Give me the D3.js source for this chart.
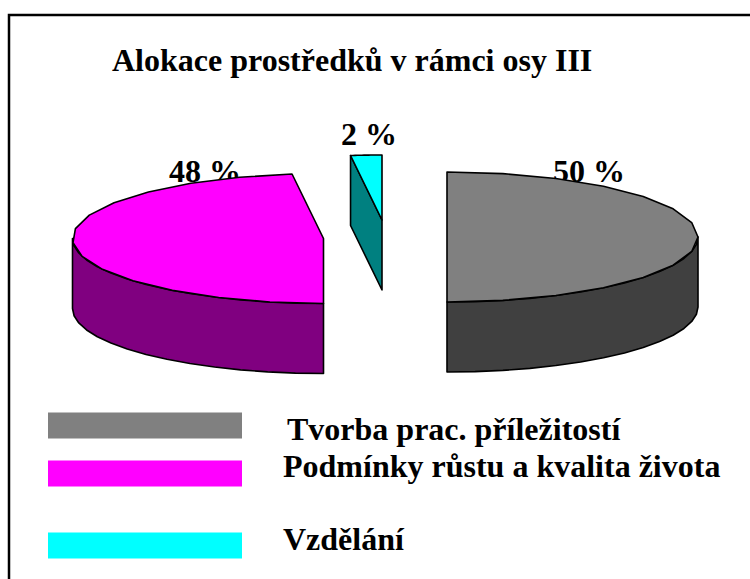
<!DOCTYPE html>
<html>
<head>
<meta charset="utf-8">
<script src="https://cdn.jsdelivr.net/npm/d3@7"></script>
<style>
html, body { margin: 0; padding: 0; background: #fff; }
svg { display: block; }
text { font-family: "Liberation Serif", serif; font-weight: bold; fill: #000; }
</style>
</head>
<body>
<svg id="vis" width="750" height="579"></svg>
<script>
const titleText = "Alokace prostředků v rámci osy III";
const categories = ["Tvorba prac. příležitostí", "Podmínky růstu a kvalita života", "Vzdělání"];
const shares = [50, 48, 2];
const pctLabels = ["50 %", "48 %", "2 %"];
const topColors = ["#808080", "#ff00ff", "#00ffff"];
const sideColors = ["#404040", "#800080", "#008080"];

let svg = d3.select("#vis");

const rx = 251, ry = 65, depth = 70;
// each slice is pulled out of the pie, so each has its own centre
const centres = [[447, 237], [323.5, 238.5], [382, 220]];
const labelPos = [[553, 182], [169, 182], [341, 145]];
const legendY = [412.5, 460.5, 532.5];
const legendBase = [440, 477, 550];
const legendX = [287, 283, 283];

// frame: top and left only, the picture is cut at right and bottom
svg.append("path")
    .attr("d", d3.line()([[9, 579], [9, 15], [750, 15]]))
    .attr("fill", "none")
    .attr("stroke", "#000")
    .attr("stroke-width", 2.5);

svg.append("text")
    .attr("x", 112).attr("y", 71)
    .attr("font-size", 32)
    .text(titleText);

// labels go first, the slices cover their lower edge
svg.selectAll("text.pct")
    .data(pctLabels)
    .enter()
    .append("text")
    .attr("class", "pct")
    .attr("x", (d, i) => labelPos[i][0])
    .attr("y", (d, i) => labelPos[i][1])
    .attr("font-size", 32)
    .text(d => d);

let pie = d3.pie().sort(null).startAngle(0).endAngle(2 * Math.PI);
let arcs = pie(shares);
let line = d3.line();

function rim(a, c) {
    return [c[0] + rx * Math.sin(a), c[1] - ry * Math.cos(a)];
}

// coarse steps, the original outline is a visible polygon
function sweep(a0, a1, c) {
    return d3.range(0, 15).map(k => rim(a0 + (a1 - a0) * k / 14, c));
}

function down(p) {
    return [p[0], p[1] + depth];
}

arcs.forEach((d, i) => {
    let c = centres[i];
    let g = svg.append("g")
        .attr("stroke", "#000")
        .attr("stroke-width", 1.6)
        .attr("stroke-linejoin", "round");

    // outer wall, only the part that faces the viewer
    let a0 = Math.max(d.startAngle, Math.PI / 2);
    let a1 = Math.min(d.endAngle, 3 * Math.PI / 2);
    if (a1 > a0) {
        let edge = sweep(a0, a1, c);
        g.append("path")
            .attr("d", line(edge.concat(edge.slice().reverse().map(down))) + "Z")
            .attr("fill", sideColors[i]);
    }

    // cut face of the wedge when it can be seen
    if (d.startAngle > 3 * Math.PI / 2) {
        let p = rim(d.startAngle, c);
        g.append("path")
            .attr("d", line([p, c, down(c), down(p)]) + "Z")
            .attr("fill", sideColors[i]);
    }

    g.append("path")
        .attr("d", line([c].concat(sweep(d.startAngle, d.endAngle, c))) + "Z")
        .attr("fill", topColors[i]);
});

svg.selectAll("rect.key")
    .data(categories)
    .enter()
    .append("rect")
    .attr("class", "key")
    .attr("x", 48)
    .attr("y", (d, i) => legendY[i])
    .attr("width", 194)
    .attr("height", 26)
    .attr("fill", (d, i) => topColors[i]);

svg.selectAll("text.key")
    .data(categories)
    .enter()
    .append("text")
    .attr("class", "key")
    .attr("x", (d, i) => legendX[i])
    .attr("y", (d, i) => legendBase[i])
    .attr("font-size", 32)
    .text(d => d);
</script>
</body>
</html>
